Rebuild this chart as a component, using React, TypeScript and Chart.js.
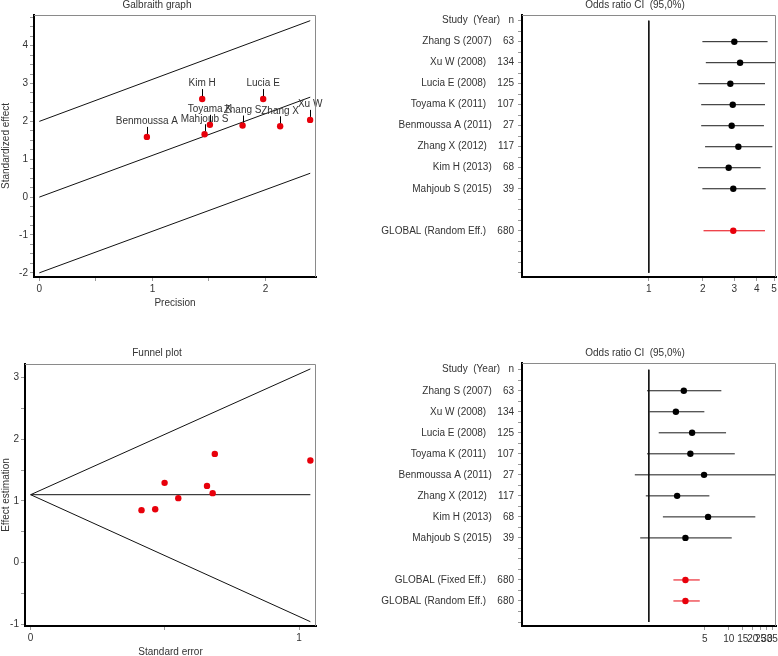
import React, { useEffect, useRef } from "react";
import { Chart, registerables } from "chart.js";
Chart.register(...registerables);

const FONT_FAMILY = "'Liberation Sans', Arial, Helvetica, sans-serif";
const TEXT_COLOR = "#333333";
const TICK_COLOR = "#9a9a9a";
const RED = "#e8000b";
const font = { family: FONT_FAMILY, size: 10 };

// ---------------- Galbraith graph ----------------
const galbraithStudies = ["Benmoussa A", "Kim H", "Mahjoub S", "Toyama K", "Zhang S", "Lucia E", "Zhang X", "Xu W"];
const galbraithPrecision = [0.951, 1.44, 1.461, 1.508, 1.797, 1.979, 2.129, 2.394];
const galbraithEffect = [1.59, 2.59, 1.66, 1.91, 1.89, 2.59, 1.87, 2.04];
const galbraithLineX = [0, 2.395];
const galbraithUpperY = [2.0, 4.66];
const galbraithCenterY = [0, 2.64];
const galbraithLowerY = [-2.0, 0.63];

// ---------------- Funnel plot ----------------
const funnelSE = [0.413, 0.464, 0.499, 0.55, 0.657, 0.678, 0.686, 1.042];
const funnelEffect = [0.849, 0.865, 1.292, 1.044, 1.243, 1.125, 1.762, 1.655];
const funnelLineX = [0, 1.042];
const funnelUpperY = [1.1, 3.14];
const funnelCenterY = [1.1, 1.1];
const funnelLowerY = [1.1, -0.96];

// ---------------- Forest plots ----------------
const studyNames = [
  "Zhang S (2007)", "Xu W (2008)", "Lucia E (2008)", "Toyama K (2011)",
  "Benmoussa A (2011)", "Zhang X (2012)", "Kim H (2013)", "Mahjoub S (2015)",
];
const studySizes = [63, 134, 125, 107, 27, 117, 68, 39];
const totalSize = 680;
const headerLabel = "Study  (Year)   n";
const nullOR = 1;
const nullLineRows = [0, 12];

// top forest plot
const topOR = [3.0, 3.23, 2.85, 2.94, 2.9, 3.16, 2.79, 2.96];
const topLo = [1.99, 2.08, 1.89, 1.96, 1.96, 2.06, 1.88, 1.99];
const topHi = [4.6, 5.6, 4.45, 4.45, 4.39, 4.89, 4.21, 4.49];
const topGlobalNames = ["GLOBAL (Random Eff.)"];
const topGlobalOR = [2.96];
const topGlobalLo = [2.02];
const topGlobalHi = [4.45];
const topXTicks = [1, 2, 3, 4, 5];

// bottom forest plot
const bottomOR = [2.74, 2.18, 3.48, 3.31, 4.91, 2.26, 5.51, 2.87];
const bottomLo = [0.95, 1.02, 1.33, 0.95, 0.668, 0.917, 1.5, 0.78];
const bottomHi = [8.08, 4.95, 9.25, 11.9, 50, 5.72, 21.5, 10.9];
const bottomGlobalNames = ["GLOBAL (Fixed Eff.)", "GLOBAL (Random Eff.)"];
const bottomGlobalOR = [2.87, 2.87];
const bottomGlobalLo = [2.03, 2.03];
const bottomGlobalHi = [4.34, 4.34];
const bottomXTicks = [5, 10, 15, 20, 25, 30, 35];

// ---------------- helpers ----------------
function range(start: number, end: number, step: number) {
  const out: number[] = [];
  const n = Math.round((end - start) / step);
  for (let i = 0; i <= n; i++) out.push(start + i * step);
  return out;
}

function intLabel(v: number) {
  return Number.isInteger(v) ? String(v) : "";
}

function frameAndTitle(title: string, tx: number, ty: number) {
  return {
    id: "frameAndTitle",
    afterDraw(chart: any) {
      const { ctx, chartArea: a } = chart;
      ctx.save();
      ctx.strokeStyle = "#8a8a8a";
      ctx.lineWidth = 1;
      ctx.beginPath();
      ctx.moveTo(a.left, Math.round(a.top) + 0.5);
      ctx.lineTo(Math.round(a.right) - 0.5, Math.round(a.top) + 0.5);
      ctx.lineTo(Math.round(a.right) - 0.5, a.bottom);
      ctx.stroke();
      ctx.font = `10px ${FONT_FAMILY}`;
      ctx.fillStyle = TEXT_COLOR;
      ctx.textAlign = "center";
      ctx.textBaseline = "middle";
      ctx.fillText(title, tx, ty);
      ctx.restore();
    },
  };
}

function scale(o: {
  type?: string; min: number; max: number; ticks: number[]; label: (v: number) => string;
  size: number; isX: boolean; pad: number; title?: string; reverse?: boolean;
}) {
  return {
    type: o.type || "linear",
    min: o.min,
    max: o.max,
    reverse: !!o.reverse,
    afterBuildTicks: (s: any) => {
      s.ticks = o.ticks.map((v) => ({ value: v }));
    },
    afterFit: (s: any) => {
      if (o.isX) s.height = o.size;
      else s.width = o.size;
    },
    ticks: {
      font, color: TEXT_COLOR, autoSkip: false, maxRotation: 0, minRotation: 0,
      padding: o.pad, callback: (v: any) => o.label(Number(v)),
    },
    grid: { display: true, drawOnChartArea: false, drawTicks: true, tickLength: 4, color: TICK_COLOR, lineWidth: 1 },
    border: { display: true, color: "#000", width: 2 },
    title: o.title
      ? { display: true, text: o.title, font, color: TEXT_COLOR, padding: 0 }
      : { display: false },
  };
}

function lineDs(points: { x: number; y: number }[], color: string) {
  return {
    data: points, showLine: true, borderColor: color, backgroundColor: color,
    borderWidth: 1, pointRadius: 0, pointHoverRadius: 0, fill: false,
  };
}

function baseOptions(padding: any, scales: any) {
  return {
    responsive: false, animation: false, devicePixelRatio: 1, events: [],
    layout: { padding },
    plugins: { legend: { display: false }, tooltip: { enabled: false }, title: { display: false } },
    scales,
  };
}

// ---------------- configs ----------------
function galbraithConfig() {
  const labelPlugin = {
    id: "galbraithLabels",
    afterDatasetsDraw(chart: any) {
      const meta = chart.getDatasetMeta(0);
      const ctx = chart.ctx;
      ctx.save();
      ctx.font = `10px ${FONT_FAMILY}`;
      ctx.fillStyle = TEXT_COLOR;
      ctx.strokeStyle = "#000";
      ctx.lineWidth = 1;
      ctx.textAlign = "center";
      ctx.textBaseline = "middle";
      meta.data.forEach((pt: any, i: number) => {
        const x = Math.round(pt.x) + 0.5;
        ctx.beginPath();
        ctx.moveTo(x, pt.y - 3);
        ctx.lineTo(x, pt.y - 10);
        ctx.stroke();
        ctx.fillText(galbraithStudies[i], pt.x, pt.y - 15.5);
      });
      ctx.restore();
    },
  };
  return {
    type: "scatter",
    data: {
      datasets: [
        {
          data: galbraithPrecision.map((x, i) => ({ x, y: galbraithEffect[i] })),
          backgroundColor: RED, borderColor: RED, pointRadius: 3.2, borderWidth: 0,
        },
        lineDs(galbraithLineX.map((x, i) => ({ x, y: galbraithUpperY[i] })), "#111"),
        lineDs(galbraithLineX.map((x, i) => ({ x, y: galbraithCenterY[i] })), "#111"),
        lineDs(galbraithLineX.map((x, i) => ({ x, y: galbraithLowerY[i] })), "#111"),
      ],
    },
    options: baseOptions(
      { left: 0, top: 15, right: 54, bottom: 11 },
      {
        x: scale({ min: -0.047, max: 2.446, ticks: range(0, 2, 0.5), label: intLabel, size: 32, isX: true, pad: 2, title: "Precision" }),
        y: scale({ min: -2.11, max: 4.81, ticks: range(-2, 4.75, 0.25), label: intLabel, size: 34, isX: false, pad: 2, title: "Standardized effect" }),
      }
    ),
    plugins: [frameAndTitle("Galbraith graph", 157, 5), labelPlugin],
  };
}

function funnelConfig() {
  return {
    type: "scatter",
    data: {
      datasets: [
        {
          data: funnelSE.map((x, i) => ({ x, y: funnelEffect[i] })),
          backgroundColor: RED, borderColor: RED, pointRadius: 3.2, borderWidth: 0,
        },
        lineDs(funnelLineX.map((x, i) => ({ x, y: funnelUpperY[i] })), "#111"),
        lineDs(funnelLineX.map((x, i) => ({ x, y: funnelCenterY[i] })), "#111"),
        lineDs(funnelLineX.map((x, i) => ({ x, y: funnelLowerY[i] })), "#111"),
      ],
    },
    options: baseOptions(
      { left: 0, top: 44, right: 54, bottom: 2 },
      {
        x: scale({ min: -0.021, max: 1.063, ticks: range(0, 1, 0.5), label: intLabel, size: 32, isX: true, pad: 2, title: "Standard error" }),
        y: scale({ min: -1.03, max: 3.22, ticks: range(-1, 3, 0.5), label: intLabel, size: 25, isX: false, pad: 2, title: "Effect estimation" }),
      }
    ),
    plugins: [frameAndTitle("Funnel plot", 157, 33)],
  };
}

function forestConfig(o: {
  or: number[]; lo: number[]; hi: number[];
  gNames: string[]; gOR: number[]; gLo: number[]; gHi: number[];
  xMin: number; xMax: number; xTicks: number[];
  yMin: number; yMax: number; padding: any; xSize: number; xPad: number; titleY: number;
}) {
  const studyRows = studyNames.map((_, i) => i + 1);
  const globalRows = o.gNames.map((_, i) => studyNames.length + 2 + i);
  const rowLabels: string[] = [headerLabel];
  studyNames.forEach((s, i) => rowLabels.push(`${s}    ${studySizes[i]}`));
  rowLabels.push("");
  o.gNames.forEach((g) => rowLabels.push(`${g}    ${totalSize}`));

  const datasets: any[] = [
    {
      data: o.or.map((x, i) => ({ x, y: studyRows[i] })),
      backgroundColor: "#000", borderColor: "#000", pointRadius: 3.2, borderWidth: 0,
    },
    {
      data: o.gOR.map((x, i) => ({ x, y: globalRows[i] })),
      backgroundColor: RED, borderColor: RED, pointRadius: 3.2, borderWidth: 0,
    },
    lineDs(nullLineRows.map((y) => ({ x: nullOR, y })), "#111"),
  ];
  o.or.forEach((_, i) => {
    datasets.push(lineDs([{ x: o.lo[i], y: studyRows[i] }, { x: o.hi[i], y: studyRows[i] }], "#1a1a1a"));
  });
  o.gOR.forEach((_, i) => {
    datasets.push(lineDs([{ x: o.gLo[i], y: globalRows[i] }, { x: o.gHi[i], y: globalRows[i] }], RED));
  });

  return {
    type: "scatter",
    data: { datasets },
    options: baseOptions(o.padding, {
      x: scale({ type: "logarithmic", min: o.xMin, max: o.xMax, ticks: o.xTicks, label: (v) => String(v), size: o.xSize, isX: true, pad: o.xPad }),
      y: scale({
        min: o.yMin, max: o.yMax, reverse: true, ticks: range(0, 12, 0.5),
        label: (v) => (Number.isInteger(v) ? rowLabels[v] ?? "" : ""),
        size: 152, isX: false, pad: 4,
      }),
    }),
    plugins: [frameAndTitle("Odds ratio CI  (95,0%)", 265, o.titleY)],
  };
}

function topForestConfig() {
  return forestConfig({
    or: topOR, lo: topLo, hi: topHi,
    gNames: topGlobalNames, gOR: topGlobalOR, gLo: topGlobalLo, gHi: topGlobalHi,
    xMin: 0.196, xMax: 5.125, xTicks: topXTicks,
    yMin: -0.27, yMax: 12.2,
    padding: { left: 0, top: 15, right: 14, bottom: 10 }, xSize: 33, xPad: 2, titleY: 5,
  });
}

function bottomForestConfig() {
  return forestConfig({
    or: bottomOR, lo: bottomLo, hi: bottomHi,
    gNames: bottomGlobalNames, gOR: bottomGlobalOR, gLo: bottomGlobalLo, gHi: bottomGlobalHi,
    xMin: 0.0259, xMax: 39.0, xTicks: bottomXTicks,
    yMin: -0.32, yMax: 12.19,
    padding: { left: 0, top: 43, right: 14, bottom: 0 }, xSize: 30, xPad: 3, titleY: 33,
  });
}

// ---------------- components ----------------
type PanelProps = { left: number; top: number; width: number; height: number; build: () => any };

function Panel({ left, top, width, height, build }: PanelProps) {
  const ref = useRef<HTMLCanvasElement | null>(null);
  useEffect(() => {
    if (!ref.current) return;
    const chart = new Chart(ref.current, build());
    return () => chart.destroy();
  }, []);
  return (
    <canvas
      ref={ref}
      width={width}
      height={height}
      style={{ position: "absolute", left, top, width, height, display: "block" }}
    />
  );
}

export default function App() {
  return (
    <div
      style={{
        position: "absolute", left: 0, top: 0, width: 778, height: 656,
        overflow: "hidden", background: "#fff",
      }}
    >
      <Panel left={0} top={0} width={370} height={320} build={galbraithConfig} />
      <Panel left={0} top={320} width={370} height={340} build={funnelConfig} />
      <Panel left={370} top={0} width={420} height={320} build={topForestConfig} />
      <Panel left={370} top={320} width={420} height={336} build={bottomForestConfig} />
    </div>
  );
}
